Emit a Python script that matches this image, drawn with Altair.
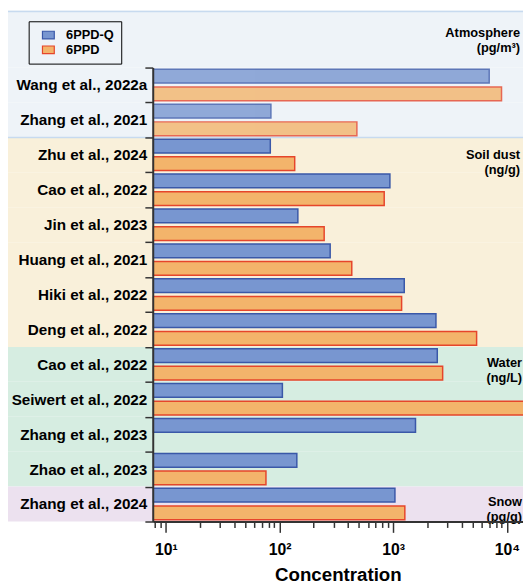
import altair as alt
import pandas as pd

# ---------------- data ----------------
groups = ["Atmosphere", "Soil dust", "Water", "Snow"]
units = ["(pg/m³)", "(ng/g)", "(ng/L)", "(pg/g)"]
studies = [
    "Wang et al., 2022a", "Zhang et al., 2021",
    "Zhu et al., 2024", "Cao et al., 2022", "Jin et al., 2023",
    "Huang et al., 2021", "Hiki et al., 2022", "Deng et al., 2022",
    "Cao et al., 2022", "Seiwert et al., 2022", "Zhang et al., 2023",
    "Zhao et al., 2023",
    "Zhang et al., 2024",
]
study_group = ["Atmosphere"] * 2 + ["Soil dust"] * 6 + ["Water"] * 4 + ["Snow"]
q_values = [6980, 84, 83, 935, 145, 279, 1250, 2375, 2440, 106, 1570, 142, 1035]
p_values = [8960, 479, 136, 833, 247, 432, 1185, 5410, 2720, 30000, None, 76, 1265]
series = ["6PPD-Q", "6PPD"]
x_major = [10, 100, 1000, 10000]
x_minor = [8, 9, 20, 30, 40, 50, 60, 70, 80, 90,
           200, 300, 400, 500, 600, 700, 800, 900,
           2000, 3000, 4000, 5000, 6000, 7000, 8000, 9000]

# ---------------- styles / layout ----------------
FONT = "Liberation Sans"
W, H = 376, 517
RT = 56  # top of the category range (room above for the legend)
fills = ["#7896d0", "#f3b46b"]
strokes = ["#3a58a8", "#e6452b"]
bg_colors = {"Atmosphere": "#eef3f8", "Soil dust": "#f9f0da",
             "Water": "#d6ede1", "Snow": "#ece1ef"}
text_x = {"Atmosphere": 373, "Soil dust": 373, "Water": 375, "Snow": 375}
text_dy = {"Atmosphere": -53, "Soil dust": 0, "Water": -1, "Snow": -2}

keys = [f"{s}|{g}" for s, g in zip(studies, study_group)]
rows_df = pd.DataFrame({"key": keys, "group": study_group})
bar_rows = []
for k, g, q, p in zip(keys, study_group, q_values, p_values):
    bar_rows.append({"key": k, "group": g, "series": series[0], "value": q})
    if p is not None:
        bar_rows.append({"key": k, "group": g, "series": series[1], "value": p})
bars_df = pd.DataFrame(bar_rows)

y_axis = alt.Axis(
    labelExpr="split(datum.label, '|')[0]",
    tickBand="extent", tickSize=8, tickWidth=1.5, tickColor="#333333",
    domainColor="#333333", domainWidth=2,
    labelFont=FONT, labelFontSize=15.5, labelFontWeight="bold",
    labelColor="black", labelPadding=-2, labelLimit=250, zindex=1,
)
y_enc = alt.Y("key:N", title=None, axis=y_axis,
              scale=alt.Scale(domain=keys, range=[RT, H],
                              paddingInner=0, paddingOuter=0))

major_test = "abs(log(datum.value)/LN10 - round(log(datum.value)/LN10)) < 0.001"
x_axis = alt.Axis(
    values=x_major + x_minor,
    labelExpr=("abs(log(datum.value)/LN10 - round(log(datum.value)/LN10)) < 0.001 ? "
               "'10' + ['⁰','¹','²','³','⁴','⁵'][round(log(datum.value)/LN10)] : ''"),
    tickSize={"condition": {"test": major_test, "value": 11}, "value": 6},
    tickWidth=1.5, tickColor="#333333",
    domainColor="#333333", domainWidth=2,
    labelFont=FONT, labelFontSize=16, labelFontWeight="bold", labelColor="black",
    labelPadding=9, labelOverlap=False, labelFlush=False,
    titleFont=FONT, titleFontSize=19, titleFontWeight="bold", titleColor="black",
    titlePadding=9, zindex=1, grid=False,
)

# background bands, one per row
bg = alt.Chart(rows_df).mark_rect().encode(
    y=y_enc,
    x=alt.value(-150), x2=alt.value(W + 5),
    color=alt.Color("group:N", scale=alt.Scale(domain=groups,
                                                range=[bg_colors[g] for g in groups]),
                    legend=None),
)

# top extension of the atmosphere panel (legend area)
atm_ext = alt.Chart(pd.DataFrame({"group": ["Atmosphere"]})).mark_rect(
    color=bg_colors["Atmosphere"]).encode(
    x=alt.value(-150), x2=alt.value(W + 5),
    y=alt.value(-2), y2=alt.value(RT),
)
step = (H - RT) / len(keys)
atm_border = alt.Chart(pd.DataFrame({"group": ["Atmosphere"]})).mark_rect(
    fillOpacity=0, stroke="#c7daef", strokeWidth=1.5).encode(
    x=alt.value(-148), x2=alt.value(W + 3),
    y=alt.value(-1), y2=alt.value(RT + 2 * step),
)

bars = alt.Chart(bars_df).mark_bar(clip=True, strokeWidth=1.5, orient="horizontal").encode(
    x=alt.X("value:Q", title="Concentration", axis=x_axis, stack=None,
            scale=alt.Scale(type="log", domain=[7.68, 13840], nice=False)),
    y=y_enc,
    yOffset=alt.YOffset("series:N", scale=alt.Scale(domain=series,
                                                     paddingInner=0.22,
                                                     paddingOuter=0.1)),
    fill=alt.Fill("series:N", title=None,
                  scale=alt.Scale(domain=series, range=fills)),
    stroke=alt.Stroke("series:N", title=None,
                      scale=alt.Scale(domain=series, range=strokes)),
    opacity=alt.condition(alt.datum.group == "Atmosphere",
                          alt.value(0.8), alt.value(1.0)),
)

layers = [bg, atm_ext, atm_border, bars]
for g, u in zip(groups, units):
    first_key = keys[study_group.index(g)]
    tdf = pd.DataFrame({"key": [first_key], "label": [g + "\n" + u]})
    layers.append(
        alt.Chart(tdf).mark_text(
            align="right", baseline="middle", dy=text_dy[g],
            font=FONT, fontSize=13, fontWeight="bold", color="black",
            lineBreak="\n", lineHeight=15,
        ).encode(x=alt.value(text_x[g]), y=y_enc, text="label:N")
    )

chart = alt.layer(*layers).properties(
    width=W, height=H,
    padding={"left": 147, "top": 0, "right": 0, "bottom": 61},
    autosize=alt.AutoSizeParams(type="none"),
    background="white",
).configure_view(stroke=None).configure_legend(
    orient="none", legendX=-126, legendY=9,
    strokeColor="black", fillColor="#eef3f8", padding=7,
    labelFont=FONT, labelFontSize=13, labelFontWeight="bold", labelColor="black",
    symbolType="M-1,-0.65H1V0.65H-1Z", symbolSize=144, symbolStrokeWidth=1.2,
    symbolOffset=6, labelOffset=11, rowPadding=1, zindex=1,
)

chart.save("out.html", embed_options={"renderer": "svg", "actions": False})
